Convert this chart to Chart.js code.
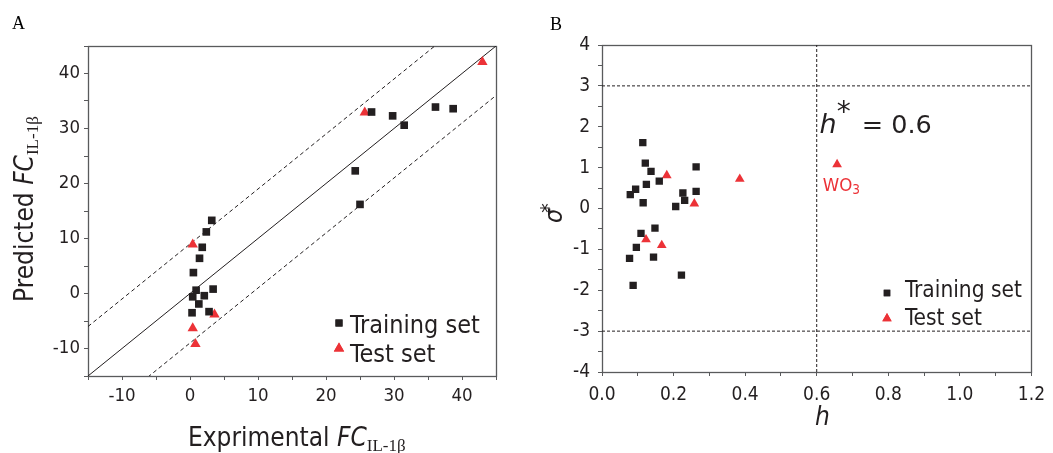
<!DOCTYPE html>
<html><head><meta charset="utf-8">
<script src="https://cdn.jsdelivr.net/npm/chart.js@4.4.0/dist/chart.umd.min.js"></script>
<style>
html,body{margin:0;padding:0;background:#fff;}
#wrap{position:relative;width:1053px;height:453px;overflow:hidden;background:#fff;}
canvas{position:absolute;top:0;}
#cA{left:0;} #cB{left:526px;}
.plab{position:absolute;font-family:"Liberation Serif",serif;font-size:18px;color:#000;line-height:1;}
</style></head><body>
<div id="wrap">
<canvas id="cA" width="526" height="453"></canvas>
<canvas id="cB" width="527" height="453"></canvas>
<div class="plab" style="left:12px;top:14px">A</div>
<div class="plab" style="left:550px;top:15px">B</div>
</div>
<script>
// ---------- Panel A data ----------
const trainExpA  = [3.2, 2.4, 1.8, 1.4, 0.5, 0.9, 0.4, 2.1, 3.4, 1.3, 0.3, 2.8, 24.3, 25.0, 26.7, 29.8, 31.5, 36.1, 38.7];
const trainPredA = [13.3, 11.2, 8.4, 6.4, 3.8, 0.6, -0.6, -0.4, 0.8, -1.9, -3.5, -3.3, 22.3, 16.2, 33.0, 32.3, 30.6, 33.9, 33.6];
const testExpA   = [0.4, 25.7, 43.0, 3.6, 0.4, 0.8];
const testPredA  = [8.9, 32.9, 42.1, -3.8, -6.3, -9.2];
const refOffsetsA = [0, 9, -9];
const rangeA = [-15, 45];
const tickLabelsA = ['-10', '0', '10', '20', '30', '40'];

// ---------- Panel B data ----------
const trainHB   = [0.114, 0.121, 0.137, 0.124, 0.160, 0.094, 0.079, 0.115, 0.263, 0.226, 0.263, 0.231, 0.206, 0.148, 0.109, 0.096, 0.077, 0.144, 0.222, 0.087];
const trainSigB = [1.61, 1.11, 0.91, 0.59, 0.67, 0.47, 0.34, 0.14, 1.02, 0.38, 0.42, 0.20, 0.05, -0.48, -0.61, -0.95, -1.22, -1.19, -1.63, -1.88];
const testHB    = [0.181, 0.385, 0.258, 0.123, 0.167, 0.657];
const testSigB  = [0.81, 0.72, 0.12, -0.76, -0.90, 1.08];
const hStar = 0.6;
const sigmaLimits = [3, -3];
const rangeHB = [0, 1.2];
const rangeSigB = [-4, 4];
const tickLabelsBX = ['0.0', '0.2', '0.4', '0.6', '0.8', '1.0', '1.2'];
const tickLabelsBY = ['-4', '-3', '-2', '-1', '0', '1', '2', '3', '4'];
const seriesNames = ['Training set', 'Test set'];

// ---------- styles ----------
const INK = '#231f20';
const RED = '#ec3237';
const AXIS = '#595a5c';
const SANS = '"DejaVu Sans Condensed", "DejaVu Sans", sans-serif';
const SANSW = '"DejaVu Sans", sans-serif';
const SERIF = '"Liberation Serif", serif';

function pts(xs, ys) { return xs.map((x, i) => ({x: x, y: ys[i]})); }

function drawRuns(ctx, runs, x, y) {
  let cx = x;
  for (const r of runs) {
    ctx.font = r.font;
    ctx.fillStyle = r.color || INK;
    ctx.textBaseline = 'alphabetic';
    ctx.textAlign = 'left';
    cx += (r.dx || 0);
    ctx.fillText(r.text, cx, y + (r.dy || 0));
    cx += ctx.measureText(r.text).width;
  }
}

const framePlugin = {
  id: 'frame',
  beforeDatasetsDraw(chart) {
    const a = chart.chartArea, ctx = chart.ctx;
    ctx.save();
    ctx.strokeStyle = AXIS; ctx.lineWidth = 1.3;
    ctx.strokeRect(Math.round(a.left) + 0.5, Math.round(a.top) + 0.5, Math.round(a.right - a.left), Math.round(a.bottom - a.top));
    ctx.restore();
  }
};

const extrasPlugin = {
  id: 'extras',
  afterDraw(chart, args, opts) {
    const ctx = chart.ctx;
    const xs = chart.scales.x, ys = chart.scales.y;
    ctx.save();
    // legend
    for (const it of opts.legend.items) {
      ctx.fillStyle = it.color;
      Chart.helpers.drawPoint(ctx, {pointStyle: it.style, radius: it.r, rotation: 0, borderWidth: 0}, opts.legend.x, it.y);
      ctx.fillStyle = it.color;
      ctx.fill();
      ctx.font = opts.legend.font;
      ctx.fillStyle = INK;
      ctx.textBaseline = 'alphabetic'; ctx.textAlign = 'left';
      ctx.fillText(it.text, opts.legend.tx, it.ty);
    }
    // axis titles
    const xt = opts.xTitle;
    drawRuns(ctx, xt.runs, xt.x, xt.y);
    const yt = opts.yTitle;
    ctx.save();
    ctx.translate(yt.x, yt.y);
    ctx.rotate(-Math.PI / 2);
    drawRuns(ctx, yt.runs, 0, 0);
    ctx.restore();
    // annotations anchored at data coordinates
    for (const an of (opts.notes || [])) {
      drawRuns(ctx, an.runs, xs.getPixelForValue(an.x), ys.getPixelForValue(an.y));
    }
    ctx.restore();
  }
};

function fmtLabel(list, decimals) {
  return function (v) {
    const s = decimals ? Number(v).toFixed(decimals) : String(Math.round(v));
    const ok = Math.abs(v - Number(s)) < 1e-6 && list.includes(s);
    return ok ? s : '';
  };
}

function axisOpts(min, max, step, labels, decimals, size, pad, fitFn) {
  return {
    type: 'linear', min: min, max: max,
    ticks: { stepSize: step, autoSkip: false, maxRotation: 0, color: INK, padding: pad,
             font: { family: SANS, size: size }, callback: fmtLabel(labels, decimals) },
    grid: { drawOnChartArea: false, drawTicks: true, tickLength: 4, color: AXIS, lineWidth: 1 },
    border: { display: false },
    title: { display: false },
    afterFit: fitFn
  };
}

// ---------- Chart A ----------
const refDatasetsA = refOffsetsA.map(off => ({
  type: 'line',
  data: [{x: rangeA[0], y: rangeA[0] + off}, {x: rangeA[1], y: rangeA[1] + off}],
  borderColor: INK, borderWidth: 1, borderDash: off === 0 ? [] : [4, 3],
  pointRadius: 0, fill: false, order: 5
}));

new Chart(document.getElementById('cA'), {
  type: 'scatter',
  data: {
    datasets: [
      { label: seriesNames[0], data: pts(trainExpA, trainPredA), pointStyle: 'rect', pointRadius: 5.4,
        backgroundColor: INK, borderWidth: 0, order: 1 },
      { label: seriesNames[1], data: pts(testExpA, testPredA), pointStyle: 'triangle', pointRadius: 6,
        backgroundColor: RED, borderWidth: 0, order: 2 },
      ...refDatasetsA
    ]
  },
  options: {
    responsive: false, animation: false, devicePixelRatio: 1,
    layout: { padding: { top: 46, right: 30, left: 0, bottom: 0 } },
    plugins: {
      legend: { display: false }, tooltip: { enabled: false },
      extras: {
        legend: { x: 339, tx: 350, font: '25px ' + SANS, items: [
          { style: 'rect', r: 5, color: INK, y: 323, text: seriesNames[0], ty: 333 },
          { style: 'triangle', r: 6, color: RED, y: 348.5, text: seriesNames[1], ty: 362 }
        ]},
        xTitle: { x: 188, y: 446, runs: [
          { text: 'Exprimental ', font: '26px ' + SANS },
          { text: 'FC', font: 'italic 26px ' + SANS },
          { text: 'IL-1\u03b2', font: '17px ' + SERIF, dy: 5 }
        ]},
        yTitle: { x: 33, y: 302, runs: [
          { text: 'Predicted ', font: '26px ' + SANS },
          { text: 'FC', font: 'italic 26px ' + SANS },
          { text: 'IL-1\u03b2', font: '17px ' + SERIF, dy: 5 }
        ]}
      }
    },
    scales: {
      x: axisOpts(rangeA[0], rangeA[1], 5, tickLabelsA, 0, 18.5, 5, s => { s.height = 77; }),
      y: axisOpts(rangeA[0], rangeA[1], 5, tickLabelsA, 0, 18.5, 4, s => { s.width = 88; })
    }
  },
  plugins: [framePlugin, extrasPlugin]
});

// ---------- Chart B ----------
const limitDatasetsB = [
  ...sigmaLimits.map(v => ({ type: 'line', data: [{x: rangeHB[0], y: v}, {x: rangeHB[1], y: v}] })),
  { type: 'line', data: [{x: hStar, y: rangeSigB[0]}, {x: hStar, y: rangeSigB[1]}] }
].map(d => Object.assign(d, { borderColor: INK, borderWidth: 1, borderDash: [3, 2], pointRadius: 0, fill: false, order: 5 }));

new Chart(document.getElementById('cB'), {
  type: 'scatter',
  data: {
    datasets: [
      { label: seriesNames[0], data: pts(trainHB, trainSigB), pointStyle: 'rect', pointRadius: 5.2,
        backgroundColor: INK, borderWidth: 0, order: 1 },
      { label: seriesNames[1], data: pts(testHB, testSigB), pointStyle: 'triangle', pointRadius: 5.6,
        backgroundColor: RED, borderWidth: 0, order: 2 },
      ...limitDatasetsB
    ]
  },
  options: {
    responsive: false, animation: false, devicePixelRatio: 1,
    layout: { padding: { top: 45, right: 17, left: 0, bottom: 0 } },
    plugins: {
      legend: { display: false }, tooltip: { enabled: false },
      extras: {
        legend: { x: 361, tx: 379, font: '22.5px ' + SANS, items: [
          { style: 'rect', r: 4.6, color: INK, y: 293, text: seriesNames[0], ty: 297 },
          { style: 'triangle', r: 5.4, color: RED, y: 318.5, text: seriesNames[1], ty: 325 }
        ]},
        xTitle: { x: 289, y: 425, runs: [ { text: 'h', font: 'italic 26px ' + SANS } ] },
        yTitle: { x: 36, y: 223, runs: [
          { text: '\u03c3', font: 'italic 25px ' + SANS },
          { text: '*', font: '21px ' + SANS, dy: -6, dx: -4 }
        ]},
        notes: [
          { x: 0.608, y: 1.85, runs: [
            { text: 'h', font: 'italic 27px ' + SANSW },
            { text: '*', font: '28px ' + SANSW, dy: -12, dx: 0 },
            { text: ' = 0.6', font: '25.5px ' + SANSW, dx: 3 }
          ]},
          { x: 0.617, y: 0.42, runs: [
            { text: 'WO', font: '18.5px ' + SANS, color: RED },
            { text: '3', font: '13.5px ' + SANS, color: RED, dy: 3 }
          ]}
        ]
      }
    },
    scales: {
      x: axisOpts(rangeHB[0], rangeHB[1], 0.1, tickLabelsBX, 1, 19, 8, s => { s.height = 81; }),
      y: axisOpts(rangeSigB[0], rangeSigB[1], 0.5, tickLabelsBY, 0, 19, 8, s => { s.width = 76; })
    }
  },
  plugins: [framePlugin, extrasPlugin]
});
</script>
</body></html>
